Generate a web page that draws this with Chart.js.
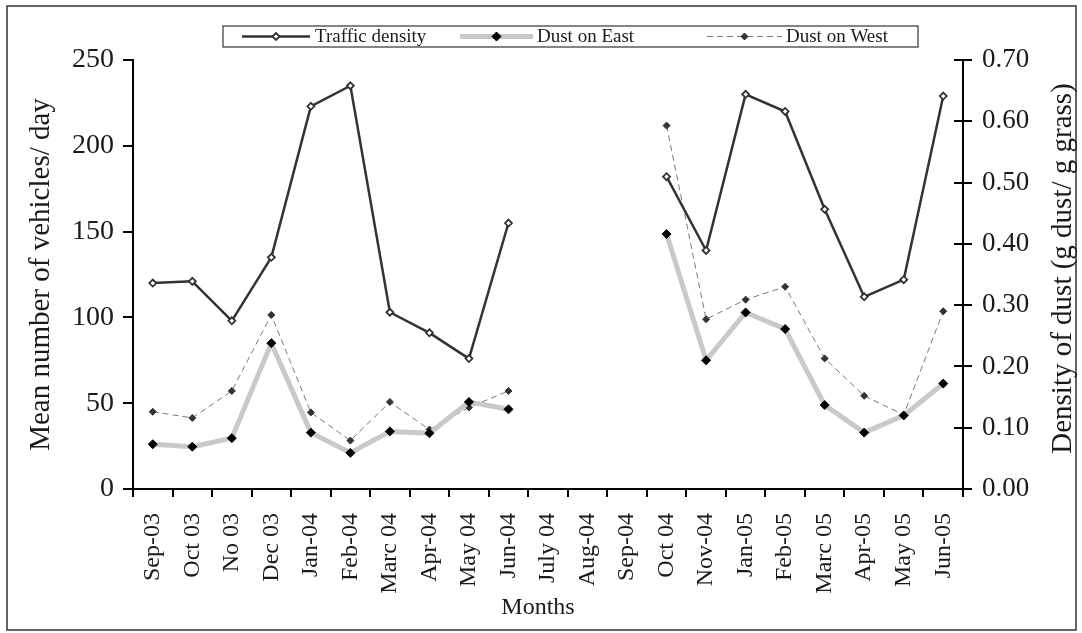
<!DOCTYPE html>
<html>
<head>
<meta charset="utf-8">
<script src="https://cdn.jsdelivr.net/npm/chart.js@4.4.1/dist/chart.umd.min.js"></script>
<style>
  html, body { margin: 0; padding: 0; background: #fff; }
  #wrap { width: 1082px; height: 633px; position: relative; }
</style>
</head>
<body>
<div id="wrap"><canvas id="c" width="1082" height="633"></canvas></div>
<script>
// Months of sampling (no samples taken July-Sep 2004)
const months = ['Sep-03', 'Oct 03', 'No 03', 'Dec 03', 'Jan-04', 'Feb-04', 'Marc 04', 'Apr-04', 'May 04', 'Jun-04',
                'July 04', 'Aug-04', 'Sep-04', 'Oct 04', 'Nov-04', 'Jan-05', 'Feb-05', 'Marc 05', 'Apr-05', 'May 05', 'Jun-05'];

// Mean number of vehicles per day
const trafficDensity = [120, 121, 98, 135, 223, 235, 103, 91, 76, 155,
                        null, null, null, 182, 139, 230, 220, 163, 112, 122, 229];

// Dust density, g dust / g grass
const dustEast = [0.073, 0.069, 0.083, 0.238, 0.092, 0.059, 0.094, 0.091, 0.142, 0.130,
                  null, null, null, 0.416, 0.210, 0.288, 0.261, 0.137, 0.092, 0.120, 0.172];
const dustWest = [0.126, 0.116, 0.160, 0.284, 0.125, 0.079, 0.142, 0.097, 0.133, 0.160,
                  null, null, null, 0.593, 0.277, 0.309, 0.330, 0.213, 0.152, 0.121, 0.290];

// Axis tick values
const vehicleTicks = [0, 50, 100, 150, 200, 250];
const dustTicks = [0, 0.1, 0.2, 0.3, 0.4, 0.5, 0.6, 0.7];

const SERIF = "'Liberation Serif', 'DejaVu Serif', serif";
const INK = '#1a1a1a';

// Fixed tick lists taken from the arrays above
function useTicks(values) {
  return function (scale) {
    scale.ticks = values.map(v => ({ value: v }));
  };
}

// Outer frame, inner tick halves on the right axis, axis titles and the boxed legend
const decorations = {
  id: 'decorations',
  beforeDraw(chart) {
    const ctx = chart.ctx;
    ctx.save();
    ctx.fillStyle = '#fff';
    ctx.fillRect(0, 0, chart.width, chart.height);
    ctx.restore();
  },
  afterDraw(chart, args, opts) {
    const ctx = chart.ctx;
    const area = chart.chartArea;
    ctx.save();

    // frame
    ctx.strokeStyle = '#333';
    ctx.lineWidth = 1.5;
    ctx.strokeRect(7, 6, 1069, 624);

    // right axis ticks cross the axis line
    const y1 = chart.scales.y1;
    ctx.strokeStyle = '#000';
    ctx.lineWidth = 2;
    y1.ticks.forEach(t => {
      const py = Math.round(y1.getPixelForValue(t.value));
      ctx.beginPath();
      ctx.moveTo(area.right - 9, py);
      ctx.lineTo(area.right, py);
      ctx.stroke();
    });

    ctx.fillStyle = INK;
    ctx.textAlign = 'center';
    ctx.textBaseline = 'middle';

    // right axis title, reading bottom to top
    ctx.save();
    ctx.translate(opts.rightTitleX, (area.top + area.bottom) / 2 - 6);
    ctx.rotate(-Math.PI / 2);
    ctx.font = `29px ${SERIF}`;
    ctx.fillText(opts.rightTitle, 0, 0);
    ctx.restore();

    // bottom axis title
    ctx.font = `24px ${SERIF}`;
    ctx.fillText(opts.bottomTitle, opts.bottomTitleX, opts.bottomTitleY);

    // legend box
    const lg = opts.legend;
    ctx.fillStyle = '#fff';
    ctx.fillRect(lg.x, lg.y, lg.w, lg.h);
    ctx.strokeStyle = '#333';
    ctx.lineWidth = 1.2;
    ctx.strokeRect(lg.x, lg.y, lg.w, lg.h);
    const cy = lg.y + lg.h / 2;
    ctx.font = `19px ${SERIF}`;
    ctx.textBaseline = 'middle';
    ctx.textAlign = 'left';
    chart.data.datasets.forEach((ds, i) => {
      const it = lg.items[i];
      ctx.save();
      ctx.strokeStyle = ds.borderColor;
      ctx.lineWidth = ds.borderWidth;
      ctx.setLineDash(ds.borderDash || []);
      ctx.beginPath();
      ctx.moveTo(it.x0, cy);
      ctx.lineTo(it.x1, cy);
      ctx.stroke();
      ctx.setLineDash([]);
      const mx = (it.x0 + it.x1) / 2;
      const r = ds.pointRadius;
      ctx.beginPath();
      ctx.moveTo(mx, cy - r);
      ctx.lineTo(mx + r, cy);
      ctx.lineTo(mx, cy + r);
      ctx.lineTo(mx - r, cy);
      ctx.closePath();
      ctx.fillStyle = ds.pointBackgroundColor;
      ctx.fill();
      ctx.strokeStyle = ds.pointBorderColor;
      ctx.lineWidth = ds.pointBorderWidth;
      ctx.stroke();
      ctx.restore();
      ctx.fillStyle = INK;
      ctx.fillText(ds.label, it.tx, cy + 1);
    });

    ctx.restore();
  }
};

const chart = new Chart(document.getElementById('c'), {
  type: 'line',
  data: {
    labels: months,
    datasets: [
      {
        label: 'Traffic density',
        data: trafficDensity,
        yAxisID: 'y',
        borderColor: '#333',
        borderWidth: 2.5,
        borderJoinStyle: 'round',
        pointStyle: 'rectRot',
        pointRadius: 3.5,
        pointBackgroundColor: '#fff',
        pointBorderColor: '#333',
        pointBorderWidth: 1.8,
        spanGaps: false
      },
      {
        label: 'Dust on East',
        data: dustEast,
        yAxisID: 'y1',
        borderColor: '#c9c9c9',
        borderWidth: 5,
        borderJoinStyle: 'round',
        pointStyle: 'rectRot',
        pointRadius: 4.5,
        pointBackgroundColor: '#000',
        pointBorderColor: '#000',
        pointBorderWidth: 1,
        spanGaps: false
      },
      {
        label: 'Dust on West',
        data: dustWest,
        yAxisID: 'y1',
        borderColor: '#7a7a7a',
        borderWidth: 1,
        borderDash: [6, 4],
        pointStyle: 'rectRot',
        pointRadius: 3.5,
        pointBackgroundColor: '#333',
        pointBorderColor: '#333',
        pointBorderWidth: 1,
        spanGaps: false
      }
    ]
  },
  options: {
    responsive: false,
    animation: false,
    devicePixelRatio: 1,
    events: [],
    layout: { padding: { top: 60, left: 22, right: 0, bottom: 8 } },
    plugins: {
      legend: { display: false },
      tooltip: { enabled: false },
      decorations: {
        rightTitle: 'Density of dust (g dust/ g grass)',
        rightTitleX: 1063,
        bottomTitle: 'Months',
        bottomTitleX: 538,
        bottomTitleY: 608,
        legend: {
          x: 223, y: 26, w: 695, h: 21,
          items: [
            { x0: 242, x1: 310, tx: 315 },
            { x0: 460, x1: 533, tx: 537 },
            { x0: 707, x1: 782, tx: 786 }
          ]
        }
      }
    },
    scales: {
      x: {
        type: 'category',
        offset: true,
        afterFit(s) { s.height = 136; },
        grid: {
          offset: true,
          drawOnChartArea: false,
          drawTicks: true,
          tickLength: 8,
          color: '#000',
          lineWidth: 2
        },
        border: { display: true, color: '#000', width: 2 },
        ticks: {
          autoSkip: false,
          minRotation: 90,
          maxRotation: 90,
          padding: 16,
          color: INK,
          font: { family: SERIF, size: 24 }
        },
        title: { display: false }
      },
      y: {
        position: 'left',
        min: vehicleTicks[0],
        max: vehicleTicks[vehicleTicks.length - 1],
        afterBuildTicks: useTicks(vehicleTicks),
        afterFit(s) { s.width = 111; },
        grid: {
          drawOnChartArea: false,
          drawTicks: true,
          tickLength: 10,
          color: '#000',
          lineWidth: 2
        },
        border: { display: true, color: '#000', width: 2 },
        ticks: {
          padding: 9,
          color: INK,
          font: { family: SERIF, size: 28 },
          callback: v => String(v)
        },
        title: {
          display: true,
          text: 'Mean number of vehicles/ day',
          color: INK,
          font: { family: SERIF, size: 29 },
          padding: { top: 2, bottom: 2 }
        }
      },
      y1: {
        position: 'right',
        min: dustTicks[0],
        max: dustTicks[dustTicks.length - 1],
        afterBuildTicks: useTicks(dustTicks),
        afterFit(s) { s.width = 119; },
        grid: {
          drawOnChartArea: false,
          drawTicks: true,
          tickLength: 9,
          color: '#000',
          lineWidth: 2
        },
        border: { display: true, color: '#000', width: 2 },
        ticks: {
          padding: 10,
          color: INK,
          font: { family: SERIF, size: 27 },
          callback: v => Number(v).toFixed(2)
        },
        title: { display: false }
      }
    }
  },
  plugins: [decorations]
});
</script>
</body>
</html>
